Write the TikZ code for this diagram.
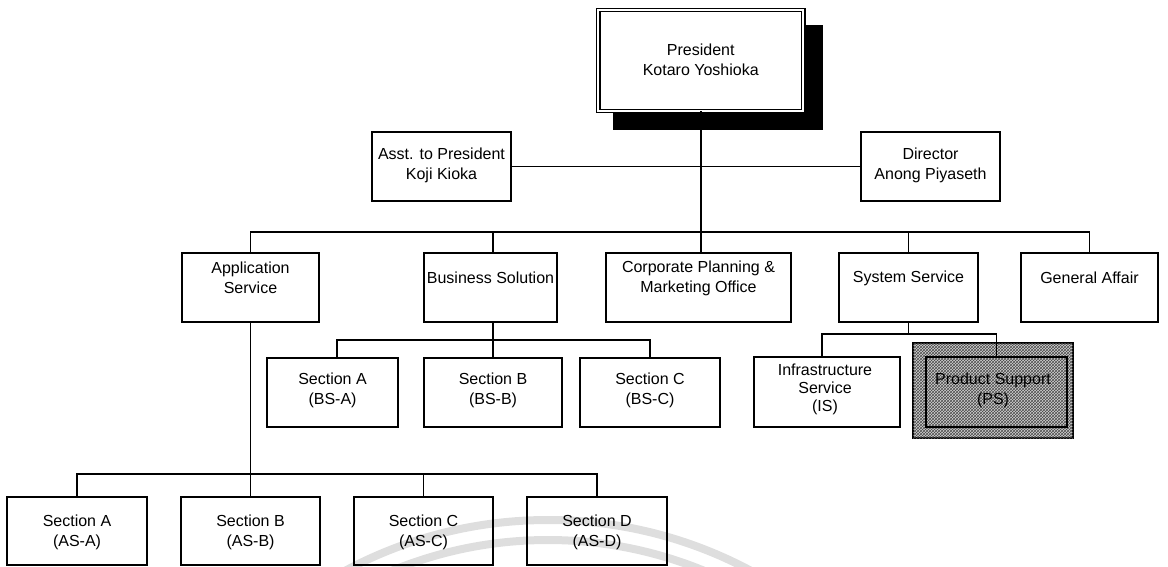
\documentclass[tikz,border=0pt]{standalone}
\usepackage{fontspec}
\setmainfont{Liberation Sans}
\usetikzlibrary{patterns}
\tikzset{
  box/.style={draw, line width=1.7pt, inner sep=0pt, outer sep=0pt},
  lbl/.style={font=\fontsize{16pt}{20pt}\selectfont, align=center, inner sep=0pt},
  wire/.style={line width=1.6pt},
  wm/.style={draw=black!13, line width=8pt}
}
\begin{document}
\begin{tikzpicture}[x=1pt,y=-1pt]
\useasboundingbox (0,0) rectangle (1168,566);
% watermark arcs
\begin{scope}
\clip (0,0) rectangle (1168,566);
\draw[wm] (548,950) circle[radius=430pt];
\draw[wm] (548,950) circle[radius=410pt];
\end{scope}

% President with shadow
\fill[black] (613,25) rectangle (823,130);
\node[box, fill=white, double, double distance=2.4pt, line width=1.2pt,
      minimum width=205pt, minimum height=101pt] (pres) at (700.75,60.5) {};
\node[lbl] (presT) at (700.75,60) {President\\Kotaro Yoshioka};

% Asst and Director
\node[box, minimum width=139pt, minimum height=69pt] (asst) at (441.5,166.5) {};
\node[lbl] (asstT) at (441.5,165.5) {Asst. to President\\Koji Kioka};
\node[box, minimum width=139pt, minimum height=69pt] (dir) at (930.5,166.5) {};
\node[lbl] (dirT) at (930.5,165.5) {Director\\Anong Piyaseth};

% Level 2
\node[box, minimum width=137pt, minimum height=69pt] (app) at (250.5,287.5) {};
\node[lbl] (appT) at (250.5,278) {Application\\Service};
\node[box, minimum width=133pt, minimum height=69pt] (bs) at (490.5,287.5) {};
\node[lbl] (bsT) at (490.5,278) {Business Solution};
\node[box, minimum width=185pt, minimum height=69pt] (corp) at (698.5,287.5) {};
\node[lbl] (corpT) at (698.5,278.5) {Corporate Planning \&\\Marketing Office};
\node[box, minimum width=139pt, minimum height=69pt] (sys) at (908.5,287.5) {};
\node[lbl] (sysT) at (908.5,278) {System Service};
\node[box, minimum width=137pt, minimum height=69pt] (ga) at (1089.5,287.5) {};
\node[lbl] (gaT) at (1089.5,278) {General Affair};

% BS sections
\node[box, minimum width=131pt, minimum height=69pt] (bsA) at (332.5,392.5) {};
\node[lbl] (bsAT) at (332.5,390) {Section A\\(BS-A)};
\node[box, minimum width=138pt, minimum height=69pt] (bsB) at (493,392.5) {};
\node[lbl] (bsBT) at (493,390) {Section B\\(BS-B)};
\node[box, minimum width=140pt, minimum height=69pt] (bsC) at (650,392.5) {};
\node[lbl] (bsCT) at (650,390) {Section C\\(BS-C)};

% System service sections
\node[box, minimum width=146pt, minimum height=70pt] (is) at (827,392) {};
\node[lbl, font=\fontsize{16pt}{18pt}\selectfont] (isT) at (825,389) {Infrastructure\\Service\\(IS)};
\node[box, fill=gray!35, minimum width=160pt, minimum height=95pt] (ps) at (993,390.5) {};
\fill[pattern=crosshatch, pattern color=black!70] (ps.south west) rectangle (ps.north east);
\node[box, line width=1.3pt, minimum width=141pt, minimum height=70pt] (psin) at (996.5,392) {};
\node[lbl] (psT) at (993,390) {Product Support\\(PS)};

% AS sections
\node[box, minimum width=140pt, minimum height=68pt] (asA) at (77,531) {};
\node[lbl] (asAT) at (77,532) {Section A\\(AS-A)};
\node[box, minimum width=139pt, minimum height=68pt] (asB) at (250.5,531) {};
\node[lbl] (asBT) at (250.5,532) {Section B\\(AS-B)};
\node[box, minimum width=139pt, minimum height=68pt] (asC) at (423.5,531) {};
\node[lbl] (asCT) at (423.5,532) {Section C\\(AS-C)};
\node[box, minimum width=140pt, minimum height=68pt] (asD) at (597,531) {};
\node[lbl] (asDT) at (597,532) {Section D\\(AS-D)};

% junction coordinates
\coordinate (mj) at (700.75,232);
\coordinate (bsj) at (493,340);
\coordinate (sysj) at (908.5,334);
\coordinate (asj) at (250.5,474);

% connectors
\draw[wire] (pres.south) -- (pres.south |- corp.north);
\draw[wire] (asst.east) -- (dir.west);
\draw[wire] (app.north) |- (mj) -| (ga.north);
\draw[wire] ([xshift=2.5pt]bs.north) -- ([xshift=2.5pt]bs.north |- mj);
\draw[wire] (sys.north) -- (sys.north |- mj);

\draw[wire] ([xshift=2.5pt]bs.south) -- (bsj);
\draw[wire] ([xshift=4.5pt]bsA.north) |- (bsj) -| (bsC.north);
\draw[wire] (bsj) -- (bsB.north);

\draw[wire] (sys.south) -- (sysj);
\draw[wire] ([xshift=-5pt]is.north) |- (sysj) -| (psin.north);

\draw[wire] (app.south) -- (asB.north);
\draw[wire] (asA.north) |- (asj) -| (asD.north);
\draw[wire] (asC.north) -- (asC.north |- asj);
\end{tikzpicture}
\end{document}
